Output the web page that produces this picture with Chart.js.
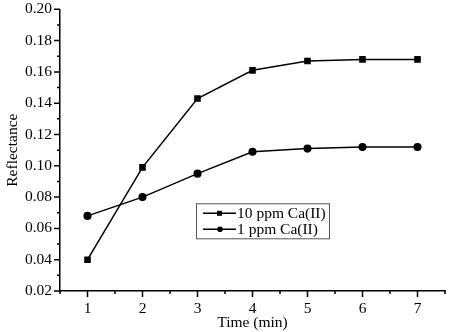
<!DOCTYPE html>
<html>
<head>
<meta charset="utf-8">
<script src="https://cdn.jsdelivr.net/npm/chart.js@4/dist/chart.umd.min.js"></script>
<style>
  html, body { margin: 0; padding: 0; background: #fff; }
  #wrap { width: 455px; height: 332px; }
</style>
</head>
<body>
<div id="wrap"><canvas id="chart" width="455" height="332"></canvas></div>
<script>
// Reflectance vs time for two Ca(II) concentrations
const times = [1, 2, 3, 4, 5, 6, 7];
const ppm10 = [0.040, 0.099, 0.143, 0.161, 0.167, 0.168, 0.168];
const ppm1 = [0.068, 0.080, 0.095, 0.109, 0.111, 0.112, 0.112];
const seriesLabels = ['10 ppm Ca(II)', '1 ppm Ca(II)'];

const FONT = 'Liberation Serif, Times New Roman, serif';

// outward major/minor tick marks on the two axes
const tickMarks = {
    id: 'tickMarks',
    afterDraw(chart) {
        const ctx = chart.ctx;
        const xs = chart.scales.x, ys = chart.scales.y;
        const area = chart.chartArea;
        ctx.save();
        ctx.strokeStyle = '#000';
        ctx.lineWidth = 1.5;
        ctx.beginPath();
        for (let v = 1; v <= 15; v++) {
            const px = xs.getPixelForValue(v / 2);
            const len = v % 2 === 0 ? 6 : 3;
            ctx.moveTo(px, area.bottom);
            ctx.lineTo(px, area.bottom + len);
        }
        for (let v = 2; v <= 20; v++) {
            const py = ys.getPixelForValue(v / 100);
            const len = v % 2 === 0 ? 6 : 3;
            ctx.moveTo(area.left, py);
            ctx.lineTo(area.left - len, py);
        }
        ctx.stroke();
        ctx.restore();
    }
};

// boxed legend inside the plot area
const boxLegend = {
    id: 'boxLegend',
    afterDraw(chart) {
        const ctx = chart.ctx;
        const area = chart.chartArea;
        const x0 = area.left + 136, y0 = area.top + 194;
        const w = 133, h = 35;
        ctx.save();
        ctx.strokeStyle = '#555';
        ctx.lineWidth = 1;
        ctx.strokeRect(x0 + 0.5, y0 + 0.5, w, h);
        ctx.font = '15.5px ' + FONT;
        ctx.fillStyle = '#000';
        ctx.textBaseline = 'middle';
        chart.data.datasets.forEach((ds, i) => {
            const cy = y0 + 10 + i * 16;
            ctx.strokeStyle = '#000';
            ctx.lineWidth = 1.5;
            ctx.beginPath();
            ctx.moveTo(x0 + 7, cy);
            ctx.lineTo(x0 + 40, cy);
            ctx.stroke();
            ctx.beginPath();
            if (ds.pointStyle === 'rect') {
                ctx.fillRect(x0 + 21, cy - 2.5, 5, 5);
            } else {
                ctx.arc(x0 + 24, cy, 2.8, 0, Math.PI * 2);
                ctx.fill();
            }
            ctx.fillText(ds.label, x0 + 41, cy + 1);
        });
        ctx.restore();
    }
};

new Chart(document.getElementById('chart'), {
    type: 'line',
    data: {
        datasets: [{
            label: seriesLabels[0],
            data: times.map((t, i) => ({ x: t, y: ppm10[i] })),
            borderColor: '#000',
            backgroundColor: '#000',
            borderWidth: 1.5,
            pointStyle: 'rect',
            pointRadius: 3.6,
            tension: 0
        }, {
            label: seriesLabels[1],
            data: times.map((t, i) => ({ x: t, y: ppm1[i] })),
            borderColor: '#000',
            backgroundColor: '#000',
            borderWidth: 1.5,
            pointStyle: 'circle',
            pointRadius: 3.3,
            tension: 0
        }]
    },
    options: {
        responsive: false,
        animation: false,
        layout: { padding: { top: -8, right: 10, left: 0, bottom: 0 } },
        plugins: {
            legend: { display: false },
            tooltip: { enabled: false }
        },
        scales: {
            x: {
                type: 'linear',
                min: 0.5,
                max: 7.5,
                grid: { display: false },
                border: { display: true, color: '#000', width: 1.5 },
                ticks: {
                    stepSize: 0.5,
                    autoSkip: false,
                    maxRotation: 0,
                    padding: 1,
                    color: '#000',
                    font: { family: FONT, size: 15.5 },
                    callback: v => Number.isInteger(v) ? String(v) : ''
                },
                title: {
                    display: true,
                    text: 'Time (min)',
                    color: '#000',
                    font: { family: FONT, size: 15.5 },
                    padding: { top: 4, bottom: 0 }
                },
                afterFit: s => { s.height = 41; }
            },
            y: {
                min: 0.02,
                max: 0.20,
                grid: { display: false },
                border: { display: true, color: '#000', width: 1.5 },
                ticks: {
                    stepSize: 0.02,
                    padding: 0,
                    color: '#000',
                    font: { family: FONT, size: 15.5 },
                    callback: v => Number(v).toFixed(2)
                },
                title: {
                    display: true,
                    text: 'Reflectance',
                    color: '#000',
                    font: { family: FONT, size: 15.5 },
                    padding: { top: 4, bottom: 0 }
                },
                afterFit: s => { s.width = 60; }
            }
        }
    },
    plugins: [tickMarks, boxLegend]
});
</script>
</body>
</html>
